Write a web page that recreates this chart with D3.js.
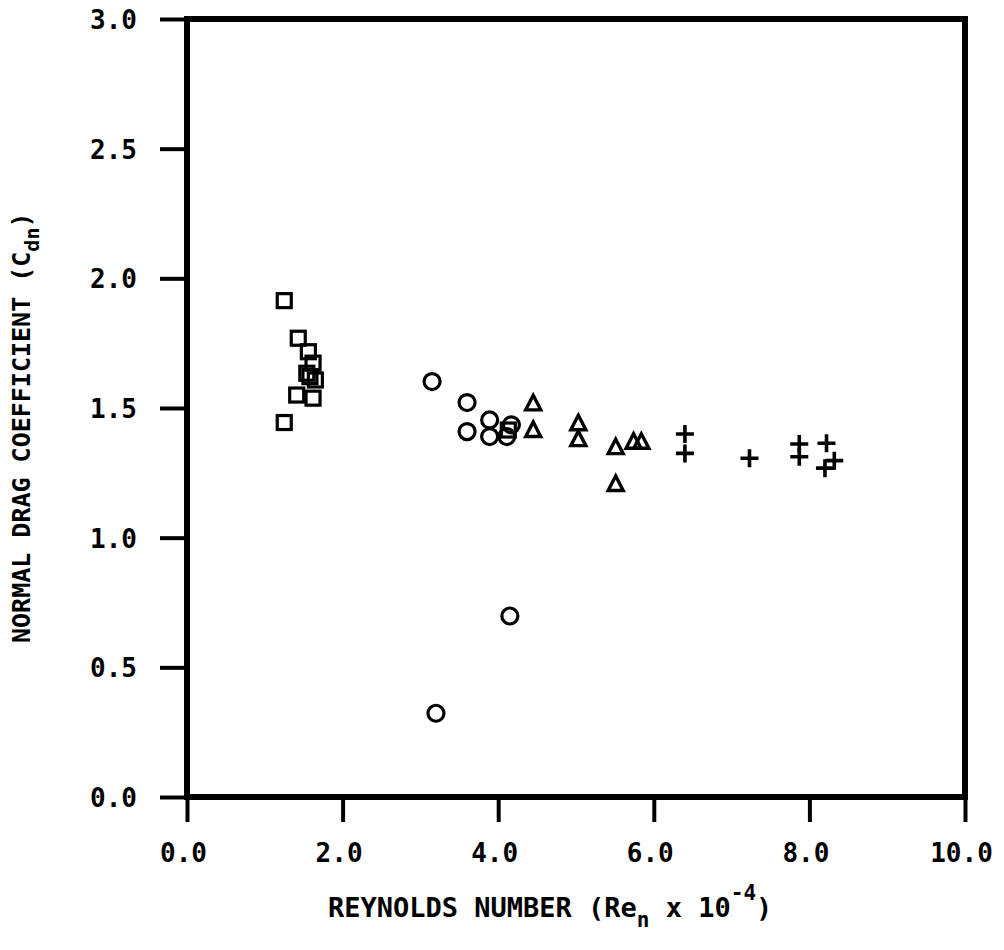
<!DOCTYPE html>
<html><head><meta charset="utf-8">
<script src="https://cdn.jsdelivr.net/npm/d3@7"></script>
<style>body{margin:0;background:#fff}svg{display:block}</style>
</head><body>
<svg id="c" width="1004" height="950"></svg>
<script>
const xTicks = [0, 2, 4, 6, 8, 10];
const yTicks = [0, 0.5, 1.0, 1.5, 2.0, 2.5, 3.0];
const squaresX = [1.25, 1.43, 1.56, 1.62, 1.54, 1.58, 1.65, 1.41, 1.62, 1.25, 4.13];
const squaresY = [1.914, 1.769, 1.717, 1.673, 1.634, 1.621, 1.608, 1.550, 1.538, 1.444, 1.415];
const circlesX = [3.15, 3.60, 3.60, 3.89, 3.89, 4.11, 4.17, 4.15, 3.20];
const circlesY = [1.602, 1.521, 1.409, 1.454, 1.390, 1.390, 1.435, 0.698, 0.323];
const trianglesX = [4.45, 4.45, 5.03, 5.03, 5.51, 5.74, 5.84, 5.51];
const trianglesY = [1.518, 1.415, 1.441, 1.380, 1.349, 1.370, 1.370, 1.207];
const plusesX = [6.40, 6.40, 7.23, 7.87, 7.87, 8.22, 8.32, 8.20];
const plusesY = [1.400, 1.325, 1.306, 1.361, 1.312, 1.364, 1.297, 1.268];

const svg = d3.select('#c');
const font = "'DejaVu Sans Mono', monospace";
const x = d3.scaleLinear().domain([0, 10]).range([187, 965]);
const y = d3.scaleLinear().domain([0, 3]).range([797, 19]);

// axes (ticks outward)
const xAxis = d3.axisBottom(x).tickValues(xTicks).tickSize(25).tickFormat(d3.format('.1f'));
const gx = svg.append('g').attr('transform', `translate(0,${y(0)})`).call(xAxis);
gx.select('.domain').remove();
gx.selectAll('line').attr('stroke', '#000').attr('stroke-width', 4);
gx.selectAll('text').attr('font-family', font).attr('font-weight', 'bold').attr('font-size', 26)
  .attr('fill', '#000').attr('dy', null).attr('y', 65).attr('dx', -4);

const yAxis = d3.axisLeft(y).tickValues(yTicks).tickSize(27).tickFormat(d3.format('.1f'));
const gy = svg.append('g').attr('transform', `translate(${x(0)},0)`).call(yAxis);
gy.select('.domain').remove();
gy.selectAll('line').attr('stroke', '#000').attr('stroke-width', 4);
gy.selectAll('text').attr('font-family', font).attr('font-weight', 'bold').attr('font-size', 26)
  .attr('fill', '#000').attr('x', -50).attr('dy', '0.36em');

// frame
svg.append('rect').attr('x', x(0)).attr('y', y(3)).attr('width', x(10) - x(0)).attr('height', y(0) - y(3))
  .attr('fill', 'none').attr('stroke', '#000').attr('stroke-width', 6);

// markers
const g = svg.append('g').attr('fill', 'none').attr('stroke', '#000');
const sq = squaresX.map((v, i) => [v, squaresY[i]]);
g.selectAll('rect.sq').data(sq).enter().append('rect').attr('class', 'sq')
  .attr('x', d => x(d[0]) - 7).attr('y', d => y(d[1]) - 7).attr('width', 14).attr('height', 14)
  .attr('stroke-width', 3.2);
const ci = circlesX.map((v, i) => [v, circlesY[i]]);
g.selectAll('circle').data(ci).enter().append('circle')
  .attr('cx', d => x(d[0])).attr('cy', d => y(d[1])).attr('r', 8).attr('stroke-width', 3.2);
const tri = trianglesX.map((v, i) => [v, trianglesY[i]]);
g.selectAll('path.tri').data(tri).enter().append('path').attr('class', 'tri')
  .attr('d', d => { const cx = x(d[0]), cy = y(d[1]); return `M${cx},${cy - 8}L${cx + 7.5},${cy + 6.5}L${cx - 7.5},${cy + 6.5}Z`; })
  .attr('stroke-width', 3.4).attr('stroke-linejoin', 'miter');
const pl = plusesX.map((v, i) => [v, plusesY[i]]);
g.selectAll('path.pl').data(pl).enter().append('path').attr('class', 'pl')
  .attr('d', d => { const cx = x(d[0]), cy = y(d[1]); return `M${cx - 9},${cy}H${cx + 9}M${cx},${cy - 9}V${cy + 9}`; })
  .attr('stroke-width', 3.6);

// axis titles
const xt = svg.append('text').attr('x', 328).attr('y', 917).attr('font-family', font)
  .attr('font-weight', 'bold').attr('font-size', 27).attr('fill', '#000');
xt.append('tspan').text('REYNOLDS NUMBER (Re');
xt.append('tspan').attr('dy', 10).attr('font-size', 21).text('n');
xt.append('tspan').attr('dy', -10).text(' x 10');
xt.append('tspan').attr('dy', -17).attr('font-size', 21).text('-4');
xt.append('tspan').attr('dy', 17).text(')');

const yt = svg.append('text').attr('transform', 'translate(30,643) rotate(-90)').attr('font-family', font)
  .attr('font-weight', 'bold').attr('font-size', 25).attr('fill', '#000');
yt.append('tspan').text('NORMAL DRAG COEFFICIENT (C');
yt.append('tspan').attr('dy', 9).attr('font-size', 20).text('dn');
yt.append('tspan').attr('dy', -9).text(')');
</script>
</body></html>
